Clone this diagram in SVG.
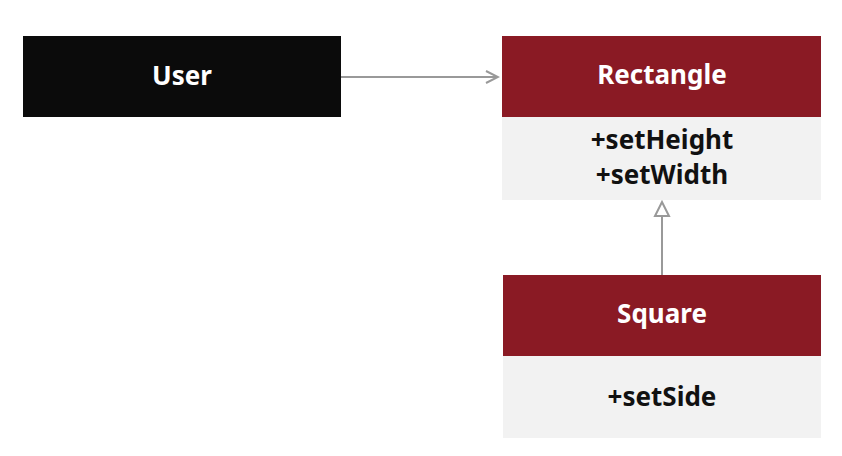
<svg xmlns="http://www.w3.org/2000/svg" width="842" height="456" viewBox="0 0 842 456">
<defs>
<style>
.hdr{fill:#8a1a24}
.body{fill:#f2f2f2}
.t{font-family:"Noto Sans","Liberation Sans",sans-serif;font-weight:700;text-anchor:middle}
.w{fill:#ffffff;font-size:26px}
.b{fill:#111111;font-size:26px}
.c{stroke:#999999;stroke-width:2;fill:none}
</style>
<marker id="open" markerWidth="16" markerHeight="16" refX="14" refY="8" orient="auto" markerUnits="userSpaceOnUse">
<path d="M2,2 L14,8 L2,14" fill="none" stroke="#999999" stroke-width="2"/>
</marker>
<marker id="tri" markerWidth="18" markerHeight="18" refX="16" refY="9" orient="auto" markerUnits="userSpaceOnUse">
<path d="M2,2 L16,9 L2,16 Z" fill="#ffffff" stroke="#999999" stroke-width="2"/>
</marker>
</defs>
<rect width="842" height="456" fill="#ffffff"/>
<g id="connectors">
<line class="c" x1="341" y1="77" x2="498" y2="77" marker-end="url(#open)"/>
<line class="c" x1="662" y1="275" x2="662" y2="202" marker-end="url(#tri)"/>
</g>
<g id="user">
<rect x="23" y="36" width="318" height="81" fill="#0b0b0b"/>
<text class="t w" x="182" y="85">User</text>
</g>
<g id="rectangle">
<rect class="hdr" x="502" y="36" width="319" height="81"/>
<rect class="body" x="502" y="117" width="319" height="83"/>
<text class="t w" x="662" y="84">Rectangle</text>
<text class="t b" x="662" y="149">+setHeight</text>
<text class="t b" x="662" y="184">+setWidth</text>
</g>
<g id="square">
<rect class="hdr" x="503" y="275" width="318" height="81"/>
<rect class="body" x="503" y="356" width="318" height="82"/>
<text class="t w" x="662" y="323">Square</text>
<text class="t b" x="662" y="406">+setSide</text>
</g>
</svg>
